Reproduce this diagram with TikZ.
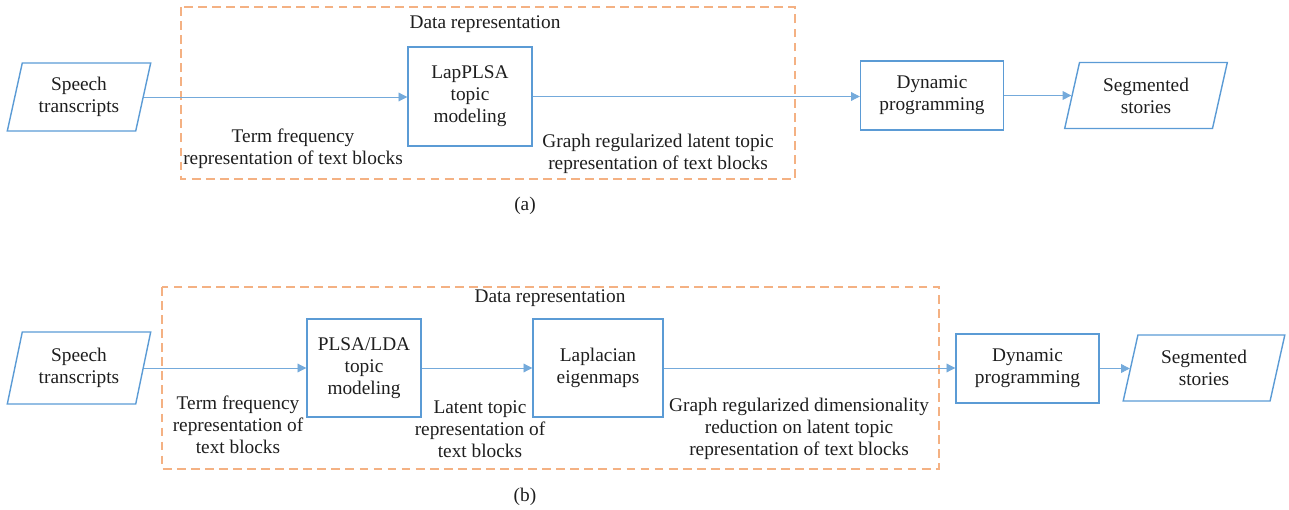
\documentclass[tikz,border=0pt]{standalone}
\usepackage{fontspec}
\setmainfont{Liberation Serif}
\usepackage{xcolor}
\usetikzlibrary{arrows.meta, shapes.geometric}
\definecolor{boxblue}{RGB}{91,155,213}
\definecolor{dashorange}{RGB}{244,177,131}
\definecolor{txt}{RGB}{30,30,30}

\begin{document}
\begin{tikzpicture}[
          x=0.02cm, y=-0.02cm,
          every node/.style={font=\fontsize{11}{12.6}\selectfont, text=txt},
          proc/.style={draw=boxblue, line width=0.8pt, align=center, inner sep=0pt},
          iobox/.style={trapezium, trapezium left angle=75, trapezium right angle=105,
                        trapezium stretches=true, draw=boxblue, line width=0.8pt,
                        align=center, inner sep=0pt},
          frame/.style={draw=dashorange, line width=0.8pt, dash pattern=on 5pt off 3pt},
          lbl/.style={align=center, inner sep=0pt},
          arr/.style={-{Triangle[length=5pt, width=5pt]}, line width=0.5pt, boxblue!85},
        ]
          \useasboundingbox (0,0) rectangle (1289,510);

          % (a) LapPLSA pipeline
          \draw[frame] (181,7) rectangle (795,179);
          \node[lbl] (dra) at (485,24) {Data representation};
          \node[iobox, minimum width=2.88cm, minimum height=1.36cm] (spa) at (79,97) {Speech\\transcripts};
          \node[proc, minimum width=2.48cm, minimum height=1.98cm] (lap) at (470,96.5) {LapPLSA\\topic\\modeling};
          \node[proc, minimum width=2.86cm, minimum height=1.38cm] (dpa) at (932,95.5) {Dynamic\\programming};
          \node[iobox, minimum width=3.26cm, minimum height=1.32cm] (sga) at (1146,95.5) {Segmented\\stories};
          \node[lbl] (tfa) at (293,149) {Term frequency\\representation of text blocks};
          \node[lbl] (gla) at (658,154) {Graph regularized latent topic\\representation of text blocks};
          \node[lbl] (capa) at (525,206) {(a)};

          \draw[arr] (spa.east) -- (lap.west |- spa.east);
          \draw[arr] (lap.east) -- (dpa.west |- lap.east);
          \draw[arr] (dpa.east) -- (sga.west |- dpa.east);

          % (b) PLSA/LDA + Laplacian eigenmaps pipeline
          \draw[frame] (162,287) rectangle (939,469);
          \node[lbl] (drb) at (550,298) {Data representation};
          \node[iobox, minimum width=2.88cm, minimum height=1.44cm] (spb) at (79,368) {Speech\\transcripts};
          \node[proc, minimum width=2.28cm, minimum height=1.96cm] (plsa) at (364,368) {PLSA/LDA\\topic\\modeling};
          \node[proc, minimum width=2.6cm, minimum height=1.96cm] (lape) at (598,368) {Laplacian\\eigenmaps};
          \node[proc, minimum width=2.86cm, minimum height=1.38cm] (dpb) at (1027.5,368.5) {Dynamic\\programming};
          \node[iobox, minimum width=3.24cm, minimum height=1.32cm] (sgb) at (1204,368) {Segmented\\stories};
          \node[lbl] (tfb) at (238,425) {Term frequency\\representation of\\text blocks};
          \node[lbl] (ltb) at (480,429) {Latent topic\\representation of\\text blocks};
          \node[lbl] (grb) at (799,429) {Graph regularized dimensionality\\reduction on latent topic\\representation of text blocks};
          \node[lbl] (capb) at (525,497) {(b)};

          \draw[arr] (spb.east) -- (plsa.west |- spb.east);
          \draw[arr] (plsa.east) -- (lape.west |- plsa.east);
          \draw[arr] (lape.east) -- (dpb.west |- lape.east);
          \draw[arr] (dpb.east) -- (sgb.west |- dpb.east);
        \end{tikzpicture}
\end{document}
